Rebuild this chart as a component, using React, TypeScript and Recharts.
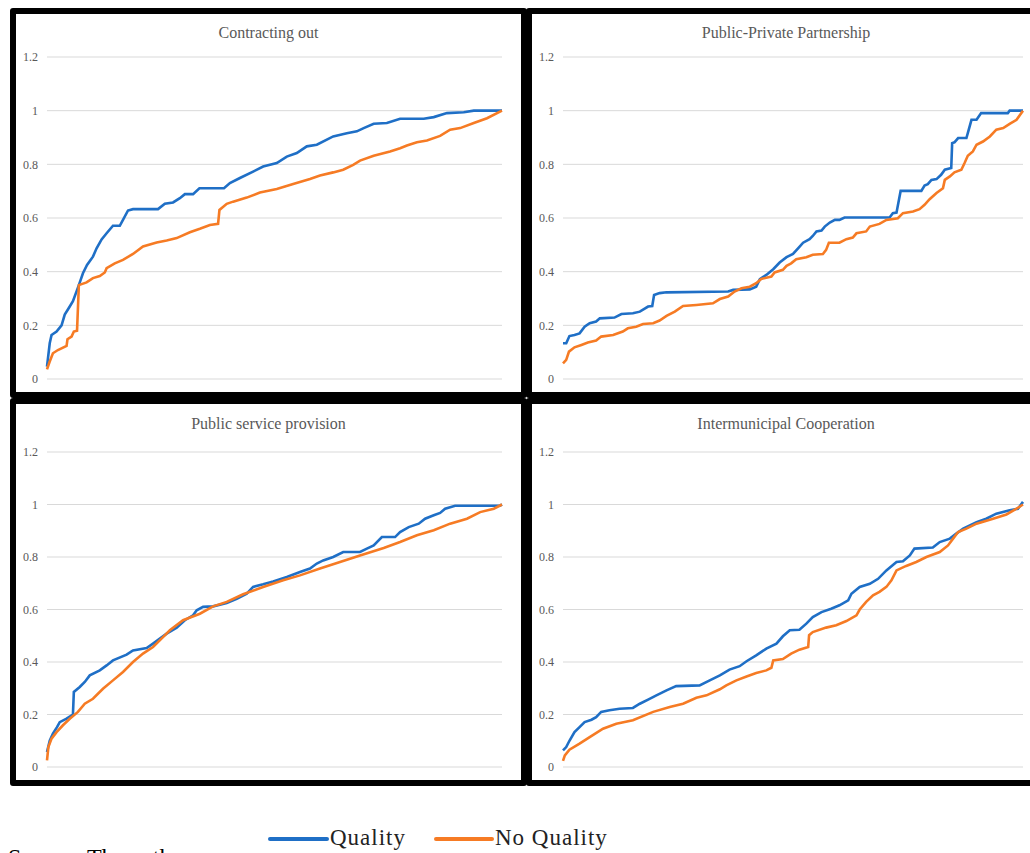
import React from "react";
import { LineChart, Line, XAxis, YAxis, CartesianGrid } from "recharts";

// Cumulative share curves, x = position in the ranked sample (0–100), y = cumulative share
const contractingQuality: [number, number][] = [
  [0, 0.046], [0.6, 0.133], [1.0, 0.164], [2.1, 0.177], [3.2, 0.2], [3.9, 0.24], [5.0, 0.27], [5.7, 0.29],
  [7.0, 0.35], [7.9, 0.394], [8.8, 0.425], [10.1, 0.456], [10.9, 0.487], [12.0, 0.52], [13.1, 0.543],
  [14.5, 0.571], [16.0, 0.571], [16.7, 0.593], [17.8, 0.628], [18.9, 0.633], [24.4, 0.633], [25.9, 0.653],
  [27.7, 0.658], [29.2, 0.674], [30.3, 0.689], [32.1, 0.689], [33.5, 0.711], [38.9, 0.711], [40.2, 0.73],
  [42.4, 0.749], [45.3, 0.773], [47.5, 0.792], [50.5, 0.805], [52.7, 0.829], [54.9, 0.842], [57.1, 0.867],
  [59.3, 0.873], [62.9, 0.904], [65.9, 0.916], [68.1, 0.923], [69.6, 0.935], [71.8, 0.951], [74.7, 0.954],
  [77.6, 0.97], [82.8, 0.97], [85.0, 0.976], [87.9, 0.991], [91.6, 0.994], [93.8, 1.0], [100, 1.0],
];
const contractingNoQuality: [number, number][] = [
  [0, 0.036], [0.6, 0.065], [1.3, 0.096], [2.4, 0.108], [4.3, 0.123], [4.5, 0.148], [5.4, 0.158], [5.9, 0.177],
  [6.6, 0.18], [7.0, 0.35], [8.7, 0.36], [10.1, 0.376], [11.6, 0.384], [12.7, 0.397], [13.1, 0.413],
  [14.9, 0.431], [16.7, 0.444], [18.9, 0.466], [21.1, 0.494], [24.1, 0.509], [26.3, 0.516], [28.5, 0.525],
  [31.4, 0.547], [33.6, 0.56], [35.8, 0.574], [37.6, 0.578], [37.9, 0.63], [39.5, 0.653], [40.9, 0.661],
  [43.9, 0.676], [46.8, 0.695], [50.5, 0.708], [54.1, 0.727], [57.8, 0.745], [60.0, 0.758], [62.9, 0.77],
  [65.1, 0.78], [67.3, 0.798], [68.8, 0.814], [71.8, 0.832], [75.4, 0.848], [77.6, 0.86], [79.1, 0.87],
  [81.3, 0.882], [83.5, 0.889], [86.4, 0.906], [88.6, 0.929], [90.8, 0.935], [93.8, 0.954], [96.7, 0.972],
  [100, 1.0],
];

const pppQuality: [number, number][] = [
  [0, 0.133], [0.7, 0.133], [1.4, 0.16], [2.5, 0.164], [3.6, 0.17], [4.7, 0.195], [5.8, 0.208], [7.2, 0.214],
  [8.0, 0.226], [11.2, 0.229], [12.7, 0.242], [15.2, 0.245], [16.7, 0.251], [18.5, 0.27], [19.4, 0.272],
  [19.8, 0.313], [21.0, 0.32], [22.5, 0.323], [35.9, 0.326], [37.0, 0.332], [40.6, 0.334], [42.0, 0.344],
  [42.8, 0.372], [44.2, 0.388], [45.7, 0.409], [47.1, 0.434], [48.6, 0.454], [50.0, 0.466], [51.1, 0.487],
  [52.2, 0.508], [53.6, 0.521], [54.3, 0.533], [55.1, 0.55], [56.2, 0.553], [56.9, 0.568], [58.0, 0.583],
  [59.1, 0.593], [60.1, 0.593], [61.2, 0.602], [71.0, 0.602], [71.7, 0.618], [72.5, 0.62], [73.4, 0.701],
  [77.9, 0.701], [78.6, 0.721], [79.3, 0.726], [80.1, 0.742], [81.2, 0.745], [82.2, 0.761], [83.0, 0.78],
  [84.4, 0.786], [84.6, 0.879], [85.1, 0.882], [85.9, 0.898], [87.7, 0.898], [88.0, 0.916], [88.8, 0.966],
  [89.9, 0.966], [90.9, 0.991], [96.7, 0.991], [97.1, 1.0], [100, 1.0],
];
const pppNoQuality: [number, number][] = [
  [0, 0.058], [0.7, 0.071], [1.3, 0.102], [2.5, 0.118], [4.0, 0.127], [5.4, 0.136], [7.2, 0.143], [8.3, 0.158],
  [10.9, 0.164], [13.0, 0.177], [14.1, 0.189], [15.9, 0.195], [17.4, 0.205], [19.6, 0.208], [21.0, 0.218],
  [22.5, 0.235], [24.3, 0.251], [26.1, 0.272], [29.0, 0.276], [32.6, 0.282], [34.1, 0.298], [35.9, 0.307],
  [37.3, 0.326], [38.8, 0.338], [40.6, 0.344], [42.0, 0.357], [43.1, 0.373], [45.3, 0.382], [46.0, 0.397],
  [47.8, 0.407], [48.6, 0.422], [49.6, 0.431], [50.7, 0.446], [52.9, 0.454], [54.3, 0.463], [56.5, 0.466],
  [57.2, 0.481], [57.8, 0.508], [60.1, 0.508], [61.6, 0.521], [63.0, 0.527], [63.8, 0.543], [65.9, 0.55],
  [66.7, 0.568], [68.8, 0.578], [70.3, 0.593], [72.8, 0.599], [73.9, 0.618], [76.1, 0.624], [77.5, 0.633],
  [78.6, 0.649], [79.7, 0.67], [81.2, 0.693], [82.6, 0.711], [83.0, 0.742], [84.1, 0.755], [85.1, 0.77],
  [86.6, 0.78], [87.3, 0.805], [88.0, 0.832], [89.1, 0.848], [89.9, 0.873], [91.3, 0.885], [92.8, 0.904],
  [94.2, 0.929], [95.7, 0.935], [97.1, 0.951], [98.6, 0.966], [100, 1.0],
];

const serviceQuality: [number, number][] = [
  [0, 0.057], [0.6, 0.1], [1.3, 0.127], [2.2, 0.152], [2.8, 0.171], [4.3, 0.184], [5.7, 0.2], [5.9, 0.286],
  [7.2, 0.305], [8.3, 0.324], [9.4, 0.349], [11.6, 0.368], [13.1, 0.387], [14.5, 0.406], [17.5, 0.428],
  [18.9, 0.444], [21.9, 0.453], [23.3, 0.47], [24.8, 0.489], [26.3, 0.508], [28.5, 0.531], [30.3, 0.559],
  [32.1, 0.578], [32.9, 0.597], [34.3, 0.61], [36.5, 0.612], [39.5, 0.625], [41.7, 0.641], [43.9, 0.66],
  [45.3, 0.686], [47.5, 0.696], [49.7, 0.707], [52.7, 0.724], [55.6, 0.743], [57.8, 0.756], [59.3, 0.775],
  [60.7, 0.787], [62.9, 0.8], [65.1, 0.819], [68.8, 0.819], [70.3, 0.832], [71.8, 0.844], [73.6, 0.876],
  [76.5, 0.876], [77.6, 0.895], [79.5, 0.914], [81.7, 0.927], [83.1, 0.946], [85.0, 0.959], [86.4, 0.968],
  [87.5, 0.984], [89.7, 0.995], [99.5, 0.995], [100, 1.0],
];
const serviceNoQuality: [number, number][] = [
  [0, 0.025], [0.3, 0.076], [1.0, 0.108], [2.1, 0.133], [3.5, 0.159], [5.0, 0.184], [6.8, 0.21], [8.3, 0.241],
  [10.1, 0.26], [12.3, 0.298], [14.5, 0.33], [16.7, 0.362], [18.9, 0.4], [21.1, 0.432], [23.3, 0.457],
  [25.5, 0.495], [27.0, 0.521], [29.9, 0.559], [33.6, 0.584], [36.5, 0.612], [39.5, 0.629], [43.1, 0.658],
  [47.5, 0.686], [51.9, 0.711], [55.6, 0.73], [60.0, 0.756], [64.4, 0.781], [68.8, 0.806], [74.0, 0.834],
  [77.6, 0.857], [81.3, 0.883], [85.0, 0.902], [88.6, 0.927], [92.3, 0.946], [95.2, 0.971], [98.2, 0.984],
  [100, 1.0],
];

const intermunicipalQuality: [number, number][] = [
  [0, 0.063], [0.7, 0.076], [1.4, 0.1], [2.5, 0.133], [3.6, 0.152], [4.7, 0.171], [6.2, 0.18], [7.2, 0.19],
  [8.3, 0.21], [10.1, 0.216], [12.3, 0.222], [15.2, 0.225], [16.7, 0.241], [18.5, 0.257], [20.3, 0.273],
  [22.5, 0.292], [24.6, 0.308], [29.7, 0.311], [31.9, 0.33], [34.1, 0.349], [36.2, 0.371], [38.4, 0.384],
  [39.9, 0.403], [42.0, 0.425], [44.2, 0.451], [46.4, 0.47], [47.8, 0.498], [49.3, 0.521], [51.4, 0.523],
  [52.9, 0.546], [54.3, 0.571], [56.2, 0.59], [58.3, 0.603], [60.1, 0.616], [62.0, 0.635], [62.7, 0.66],
  [64.5, 0.686], [66.7, 0.698], [68.5, 0.717], [70.3, 0.749], [72.5, 0.781], [73.9, 0.784], [75.4, 0.806],
  [76.4, 0.832], [80.4, 0.836], [81.9, 0.857], [84.1, 0.87], [85.5, 0.889], [87.0, 0.908], [89.9, 0.933],
  [92.0, 0.946], [94.2, 0.965], [97.1, 0.978], [98.9, 0.984], [100, 1.01],
];
const intermunicipalNoQuality: [number, number][] = [
  [0, 0.023], [0.4, 0.044], [1.4, 0.066], [3.6, 0.089], [5.8, 0.114], [8.7, 0.146], [11.6, 0.165],
  [15.2, 0.178], [19.6, 0.21], [23.2, 0.229], [26.1, 0.241], [29.0, 0.264], [31.2, 0.273], [34.1, 0.296],
  [35.5, 0.311], [37.7, 0.33], [39.9, 0.345], [42.0, 0.358], [44.2, 0.368], [45.3, 0.378], [45.7, 0.406],
  [47.8, 0.411], [49.6, 0.432], [51.4, 0.447], [53.3, 0.457], [53.5, 0.502], [54.3, 0.514], [57.2, 0.531],
  [59.4, 0.54], [61.6, 0.556], [63.8, 0.578], [64.5, 0.6], [65.9, 0.629], [67.4, 0.654], [68.8, 0.667],
  [70.3, 0.686], [71.4, 0.711], [72.5, 0.749], [74.6, 0.766], [76.8, 0.781], [79.0, 0.8], [81.9, 0.819],
  [83.7, 0.844], [84.8, 0.87], [85.9, 0.895], [87.7, 0.908], [89.9, 0.927], [93.5, 0.946], [96.4, 0.962],
  [98.6, 0.984], [100, 1.0],
];

const yTicks = [0, 0.2, 0.4, 0.6, 0.8, 1, 1.2];
const seriesNames = ["Quality", "No Quality"];

const BLUE = "#1f6fc6";
const ORANGE = "#f67b24";
const SERIF = "Liberation Serif, DejaVu Serif, serif";

const toPoints = (pairs: [number, number][]) => pairs.map(([x, y]) => ({ x, y }));

type PanelProps = {
  title: string;
  quality: [number, number][];
  noQuality: [number, number][];
  left: number;
  top: number;
  width: number;
  height: number;
  chartMargin: { top: number; right: number; bottom: number; left: number };
  titleTop: number;
};

function Panel({ title, quality, noQuality, left, top, width, height, chartMargin, titleTop }: PanelProps) {
  const innerW = width - 12;
  const innerH = height - 12;
  return (
    <div
      style={{
        position: "absolute",
        left,
        top,
        width,
        height,
        border: "6px solid #000",
        borderRadius: 3,
        boxSizing: "border-box",
        background: "#fff",
      }}
    >
      <div
        style={{
          position: "absolute",
          left: 0,
          top: titleTop,
          width: innerW,
          textAlign: "center",
          fontFamily: SERIF,
          fontSize: 16,
          lineHeight: "18px",
          color: "#595959",
        }}
      >
        {title}
      </div>
      <div style={{ position: "absolute", left: 0, top: 0 }}>
        <LineChart width={innerW} height={innerH} margin={chartMargin}>
          <CartesianGrid horizontal vertical={false} stroke="#d9d9d9" strokeWidth={1} />
          <XAxis type="number" dataKey="x" domain={[0, 100]} hide allowDuplicatedCategory={false} />
          <YAxis
            type="number"
            domain={[0, 1.2]}
            ticks={yTicks}
            width={31}
            axisLine={false}
            tickLine={false}
            tickMargin={3}
            interval={0}
            tickFormatter={(v: number) => String(Math.round(v * 10) / 10)}
            tick={{ fontFamily: SERIF, fontSize: 12, fill: "#595959" }}
          />
          <Line
            data={toPoints(quality)}
            dataKey="y"
            name={seriesNames[0]}
            type="linear"
            stroke={BLUE}
            strokeWidth={2.6}
            dot={false}
            isAnimationActive={false}
          />
          <Line
            data={toPoints(noQuality)}
            dataKey="y"
            name={seriesNames[1]}
            type="linear"
            stroke={ORANGE}
            strokeWidth={2.6}
            dot={false}
            isAnimationActive={false}
          />
        </LineChart>
      </div>
    </div>
  );
}

export default function App() {
  const topMargin = { top: 43, right: 19, bottom: 13, left: 0 };
  const topMarginR = { top: 43, right: 17, bottom: 13, left: 0 };
  const botMargin = { top: 48, right: 19, bottom: 13, left: 0 };
  const botMarginR = { top: 48, right: 17, bottom: 13, left: 0 };
  const legendText = {
    position: "absolute" as const,
    top: 826,
    fontFamily: SERIF,
    fontSize: 23,
    lineHeight: "24px",
    letterSpacing: 1,
    color: "#222",
    whiteSpace: "nowrap" as const,
  };
  return (
    <div
      style={{
        position: "absolute",
        left: 0,
        top: 0,
        width: 1030,
        height: 853,
        overflow: "hidden",
        background: "#fff",
      }}
    >
      <Panel title="Contracting out" quality={contractingQuality} noQuality={contractingNoQuality}
        left={10} top={8} width={517} height={390} chartMargin={topMargin} titleTop={10} />
      <Panel title="Public-Private Partnership" quality={pppQuality} noQuality={pppNoQuality}
        left={526} top={8} width={520} height={390} chartMargin={topMarginR} titleTop={10} />
      <Panel title="Public service provision" quality={serviceQuality} noQuality={serviceNoQuality}
        left={10} top={398} width={517} height={388} chartMargin={botMargin} titleTop={11} />
      <Panel title="Intermunicipal Cooperation" quality={intermunicipalQuality} noQuality={intermunicipalNoQuality}
        left={526} top={398} width={520} height={388} chartMargin={botMarginR} titleTop={11} />

      {/* shared legend */}
      <div style={{ position: "absolute", left: 268, top: 837, width: 61, height: 4, borderRadius: 2, background: BLUE }} />
      <div style={{ ...legendText, left: 330 }}>{seriesNames[0]}</div>
      <div style={{ position: "absolute", left: 434, top: 837, width: 60, height: 4, borderRadius: 2, background: ORANGE }} />
      <div style={{ ...legendText, left: 495 }}>{seriesNames[1]}</div>

      <div style={{ position: "absolute", left: 8, top: 845, fontFamily: SERIF, fontSize: 24, lineHeight: "24px", color: "#000", whiteSpace: "nowrap" }}>
        Source: The authors
      </div>
    </div>
  );
}
